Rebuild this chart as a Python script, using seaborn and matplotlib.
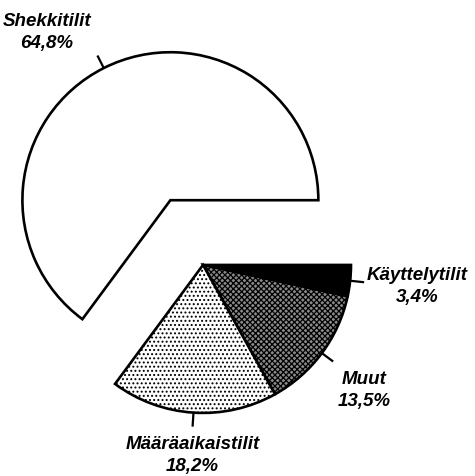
import numpy as np
import matplotlib
matplotlib.use("Agg")
import matplotlib.pyplot as plt
import seaborn as sns

# ─── Data ─────────────────────────────────────────────────────────────────────
labels = ["Käyttelytilit", "Muut", "Määräaikaistilit", "Shekkitilit"]
shares = [3.4, 13.5, 18.2, 64.8]
explode = [0, 0, 0, 0.49]

# ─── Style ────────────────────────────────────────────────────────────────────
fills = ["#000000", "#8a8a8a", "#ffffff", "#ffffff"]
hatches = [None, "xxxxxx", "....", None]
# label centre relative to the end of the leader tick (data units, r = 1)
label_offsets = [(0.36, -0.02), (0.21, -0.19), (0.0, -0.19), (-0.34, 0.16)]

sns.set_theme(style="white")
plt.rcParams["font.family"] = ["Liberation Sans", "DejaVu Sans"]
plt.rcParams["hatch.linewidth"] = 0.9

fig = plt.figure(figsize=(4.75, 4.77), dpi=100)
fig.patch.set_facecolor("white")
ax = fig.add_axes([0, 0, 1, 1])

wedges, _ = ax.pie(shares, explode=explode, startangle=0, counterclock=False,
                   colors=fills,
                   wedgeprops=dict(edgecolor="black", linewidth=1.9))

for w, h in zip(wedges, hatches):
    if h:
        w.set_hatch(h)

# leader ticks + labels
for w, name, val, (dx, dy) in zip(wedges, labels, shares, label_offsets):
    ang = np.deg2rad((w.theta1 + w.theta2) / 2)
    cx, cy = w.center
    x0, y0 = cx + w.r * np.cos(ang), cy + w.r * np.sin(ang)
    x1, y1 = cx + 1.095 * w.r * np.cos(ang), cy + 1.095 * w.r * np.sin(ang)
    ax.plot([x0, x1], [y0, y1], color="black", lw=1.6, solid_capstyle="butt")
    txt = f"{name}\n{val:.1f}%".replace(".", ",")
    ax.text(x1 + dx, y1 + dy, txt, ha="center", va="center",
            fontsize=13.5, fontweight="bold", fontstyle="italic",
            linespacing=1.4, color="black")

ax.set_xlim(-1.372, 1.838)
ax.set_ylim(-1.426, 1.797)
ax.axis("off")

fig.savefig("out.png", dpi=100, facecolor="white")
